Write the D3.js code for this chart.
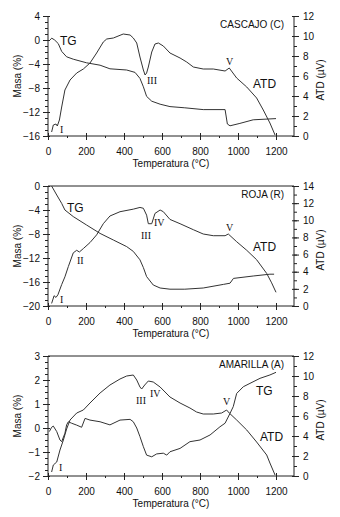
<!DOCTYPE html>
<html>
<head>
<meta charset="utf-8">
<script src="https://cdn.jsdelivr.net/npm/d3@7"></script>
<style>
body { margin: 0; background: #fff; }
svg text { font-family: "Liberation Sans", Arial, sans-serif; fill: #111; }
svg text.rom { font-family: "Liberation Serif", "Times New Roman", serif; }
</style>
</head>
<body>
<div id="chart"></div>
<script>
// temperatura (°C), masa (%) y ATD (µV)
var cascajoTG = [[10,0],[20,0.3],[35,0],[54,-0.6],[72,-1.9],[98,-2.8],[133,-3.2],[203,-3.8],
    [274,-4.2],[326,-4.8],[414,-5],[458,-5.4],[484,-6.4],[502,-7.8],[519,-9.4],[546,-10.2],
    [590,-10.7],[642,-11.1],[720,-11.3],[817,-11.6],[932,-11.6],[944,-14],[958,-14.3],
    [1010,-13.9],[1080,-13.3],[1200,-13.1]];
var cascajoATD = [[19,0.4],[28,1.1],[42,1.2],[49,1],[60,1.6],[72,2.9],[89,4.6],[116,5.6],
    [151,6.3],[186,6.7],[221,7.3],[256,8.3],[291,9.4],[309,9.7],[344,9.8],[396,10.2],[432,10.1],
    [449,9.8],[467,9.3],[484,7.9],[502,6.6],[511,6.1],[519,6.3],[528,6.9],[546,8.4],[563,9.2],
    [581,9.3],[607,9],[642,8.3],[695,7.8],[730,7.4],[765,6.9],[817,6.7],[870,6.7],[932,6.5],
    [954,6.8],[993,5.8],[1046,4.9],[1098,3.8],[1133,2.6],[1168,1.3],[1195,0.1]];

var rojaTG = [[19,0],[46,-1.5],[72,-2.9],[89,-4],[133,-5.1],[203,-6.5],[274,-7.9],[344,-9],
    [414,-10.1],[449,-10.9],[484,-12.3],[502,-13.6],[519,-15.1],[554,-16.5],[590,-17],
    [642,-17.2],[720,-17.2],[817,-17],[923,-16.4],[958,-16.2],[976,-15.4],[1080,-15],
    [1168,-14.7],[1190,-14.7]];
var rojaATD = [[19,0.3],[32,1.2],[42,1],[52,1.3],[72,2.5],[89,3.4],[107,4.6],[133,6.2],
    [151,6.5],[165,6.3],[186,6.7],[221,7.4],[256,8.3],[291,9.6],[326,10.5],[379,11],[449,11.3],
    [484,11.5],[502,11.4],[519,10.6],[528,9.6],[546,9.6],[563,10.8],[590,11.2],[607,11],
    [642,10.1],[695,9.6],[765,8.9],[817,8.4],[870,8.2],[932,8.2],[949,8.4],[993,7.5],
    [1046,6.5],[1098,5.4],[1151,3.8],[1177,2.7],[1200,1.6]];

var amarillaTG = [[7,-0.15],[19,0.03],[28,0.08],[46,-0.15],[63,-0.5],[72,-0.57],[89,-0.22],
    [98,0.13],[107,0.26],[124,0.2],[151,0.12],[177,0.03],[195,0.4],[221,0.33],[274,0.26],
    [326,0.13],[379,0.33],[432,0.36],[449,0.26],[467,0],[484,-0.36],[502,-0.78],[519,-1.13],
    [546,-1.2],[572,-1.08],[607,-1.05],[625,-1.13],[642,-0.99],[695,-0.85],[747,-0.57],
    [800,-0.5],[853,-0.29],[905,0.05],[932,0.2],[958,0.61],[975,0.89],[993,1.44],[1028,1.72],
    [1063,1.86],[1116,2.07],[1168,2.21],[1200,2.32]];
var amarillaATD = [[19,0.4],[28,1.1],[46,1.4],[63,2.6],[81,3.6],[98,4.7],[116,5.6],[151,6.3],
    [186,6.6],[221,7.3],[274,8.3],[326,9.1],[379,9.7],[414,10],[449,10.1],[467,9.6],[484,8.9],
    [493,8.7],[509,9.1],[528,9.5],[554,9.4],[590,8.9],[642,7.9],[695,7.3],[747,6.8],[782,6.4],
    [817,6.2],[870,6.2],[914,6.3],[940,6.6],[954,6.3],[993,5.6],[1046,4.6],[1098,3.4],
    [1151,2.1],[1168,1.3],[1195,0.1]];

var xTicks = [0, 200, 400, 600, 800, 1000, 1200];
var nombres = ["CASCAJO (C)", "ROJA (R)", "AMARILLA (A)"];
var masaTicks = [[4, 0, -4, -8, -12, -16], [0, -4, -8, -12, -16, -20], [3, 2, 1, 0, -1, -2]];
var atdTicks = [[0, 2, 4, 6, 8, 10, 12], [0, 2, 4, 6, 8, 10, 12, 14], [0, 2, 4, 6, 8, 10, 12]];

function init () {
    var w = 340, h = 517;
    var left = 48, right = 295;
    var fmt = d3.format("d");
    var svg = d3.select("#chart").append("svg").attr("width", w).attr("height", h);

    var paneles = [
        { top: 16, masa: [-16, 4], masaStep: 1, atd: [0, 12], tg: cascajoTG, dta: cascajoATD, borde: false,
          textos: [["TG", 60, 45, 0], ["ATD", 253, 88, 0], ["I", 60, 133, 1], ["III", 147, 84, 1], ["V", 226, 65, 1]] },
        { top: 186, masa: [-20, 0], masaStep: 1, atd: [0, 14], tg: rojaTG, dta: rojaATD, borde: true,
          textos: [["TG", 67, 212, 0], ["ATD", 253, 251, 0], ["I", 60, 303, 1], ["II", 77, 264, 1],
                   ["III", 141, 239, 1], ["IV", 154, 226, 1], ["V", 226, 231, 1]] },
        { top: 356, masa: [-2, 3], masaStep: 0.25, atd: [0, 12], tg: amarillaTG, dta: amarillaATD, borde: true,
          textos: [["TG", 256, 395, 0], ["ATD", 260, 441, 0], ["I", 59, 471, 1], ["III", 136, 404, 1],
                   ["IV", 150, 397, 1], ["V", 223, 405, 1]] }
    ];

    var x = d3.scaleLinear().domain([0, 1300]).range([left, right]);

    paneles.forEach(function(p, i) {
        var bottom = p.top + 120;
        var yM = d3.scaleLinear().domain(p.masa).range([bottom, p.top]);
        var yA = d3.scaleLinear().domain(p.atd).range([bottom, p.top]);
        var g = svg.append("g");

        // ticks menores
        g.append("g").attr("transform", "translate(0," + bottom + ")")
            .call(d3.axisBottom(x).tickValues(d3.range(100, 1300, 200)).tickSize(2).tickFormat(""));
        g.append("g").attr("transform", "translate(" + left + ",0)")
            .call(d3.axisLeft(yM).tickValues(d3.range(p.masa[0], p.masa[1] + 0.001, p.masaStep)).tickSize(3).tickFormat(""));
        g.append("g").attr("transform", "translate(" + (right - 1) + ",0)")
            .call(d3.axisRight(yA).tickValues(d3.range(p.atd[0], p.atd[1] + 0.001, 1)).tickSize(3).tickFormat(""));

        var xa = g.append("g").attr("transform", "translate(0," + bottom + ")")
            .call(d3.axisBottom(x).tickValues(xTicks).tickFormat(fmt).tickSize(4).tickPadding(8));
        xa.selectAll(".tick line").attr("y1", -3);
        var la = g.append("g").attr("transform", "translate(" + left + ",0)")
            .call(d3.axisLeft(yM).tickValues(masaTicks[i]).tickFormat(fmt).tickSize(5).tickPadding(3));
        la.selectAll(".tick line").attr("x1", 2);
        var ra = g.append("g").attr("transform", "translate(" + (right - 1) + ",0)")
            .call(d3.axisRight(yA).tickValues(atdTicks[i]).tickFormat(fmt).tickSize(5).tickPadding(4));
        ra.selectAll(".tick line").attr("x1", -2);

        g.selectAll(".domain").remove();
        g.selectAll(".tick line").attr("stroke", "#222");
        g.selectAll(".tick text").attr("font-size", 10).attr("fill", "#111")
            .style("font-family", "'Liberation Sans', Arial, sans-serif");

        // marco
        g.append("line").attr("x1", left).attr("x2", right - 1).attr("y1", bottom).attr("y2", bottom).attr("stroke", "#222");
        g.append("line").attr("x1", left).attr("x2", left).attr("y1", p.top).attr("y2", bottom).attr("stroke", "#222");
        g.append("line").attr("x1", right - 1).attr("x2", right - 1).attr("y1", p.top).attr("y2", bottom).attr("stroke", "#222");
        if (p.borde) {
            g.append("line").attr("x1", left).attr("x2", right - 1).attr("y1", p.top).attr("y2", p.top).attr("stroke", "#222");
        }

        var lineaM = d3.line().x(function(d) { return x(d[0]); }).y(function(d) { return yM(d[1]); });
        var lineaA = d3.line().x(function(d) { return x(d[0]); }).y(function(d) { return yA(d[1]); });
        g.append("path").datum(p.tg).attr("d", lineaM).attr("fill", "none").attr("stroke", "#333").attr("stroke-width", 1);
        g.append("path").datum(p.dta).attr("d", lineaA).attr("fill", "none").attr("stroke", "#333").attr("stroke-width", 1);

        g.append("text").text(nombres[i]).attr("x", 284).attr("y", p.top + 12)
            .attr("text-anchor", "end").attr("font-size", 10);

        p.textos.forEach(function(t) {
            g.append("text").text(t[0]).attr("x", t[1]).attr("y", t[2])
                .attr("class", t[3] ? "rom" : null)
                .attr("font-size", t[3] ? 10 : 12);
        });

        g.append("text").text("Temperatura (°C)").attr("x", 171).attr("y", bottom + 31)
            .attr("text-anchor", "middle").attr("font-size", 10);
        g.append("text").text("Masa (%)")
            .attr("transform", "translate(21," + (p.top + 60) + ") rotate(-90)")
            .attr("text-anchor", "middle").attr("font-size", 10).attr("fill", "#333");
        g.append("text").text("ATD (µV)")
            .attr("transform", "translate(324," + (p.top + 64) + ") rotate(-90)")
            .attr("text-anchor", "middle").attr("font-size", 10).attr("fill", "#333");
    });
}
window.onload = init;
</script>
</body>
</html>
